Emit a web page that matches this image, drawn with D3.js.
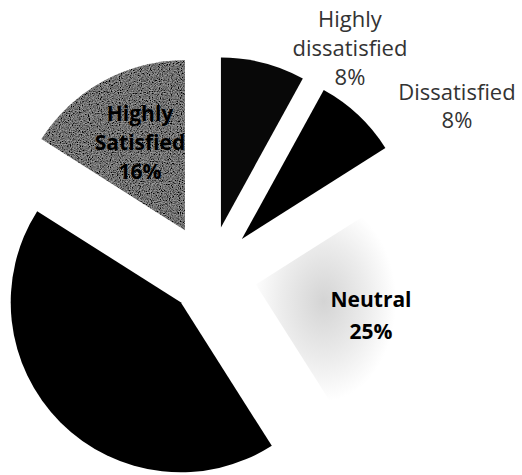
<!DOCTYPE html>
<html lang="en">
<head>
<meta charset="UTF-8">
<title>Satisfaction pie</title>
<style>
  body { margin: 0; background: #fff; }
  .outside { font-family: "Open Sans", sans-serif; font-size: 22px; fill: #333; }
  .inside { font-family: "Open Sans", sans-serif; font-size: 21px; font-weight: bold; fill: #000; }
</style>
<script src="https://d3js.org/d3.v7.min.js"></script>
</head>
<body>
<svg id="chart"></svg>
<script>
// data
const categories = ["Highly dissatisfied", "Dissatisfied", "Neutral", "Satisfied", "Highly Satisfied"];
const values = [8, 8, 25, 43, 16];
const labelLines = [
  ["Highly", "dissatisfied", "8%"],
  ["Dissatisfied", "8%"],
  ["Neutral", "25%"],
  [],
  ["Highly", "Satisfied", "16%"]
];

const width = 522, height = 475;
const cx = 209, cy = 274, radius = 170;

// how far each slice is pulled out, and where its label sits
const explode = [48, 48, 48, 40, 50];
const labelPos = [
  {x: 350, y: 27, lh: 29, cls: "outside"},
  {x: 457, y: 100, lh: 28, cls: "outside"},
  {x: 371, y: 307, lh: 32, cls: "inside"},
  null,
  {x: 140, y: 121, lh: 29, cls: "inside"}
];

const svg = d3.select("#chart").attr("width", width).attr("height", height);
svg.append("rect").attr("width", width).attr("height", height).attr("fill", "#fff");

const defs = svg.append("defs");

// grainy mid grey for Highly Satisfied
const grain = defs.append("filter").attr("id", "grain")
  .attr("x", 0).attr("y", 0).attr("width", 1).attr("height", 1);
grain.append("feTurbulence").attr("type", "fractalNoise")
  .attr("baseFrequency", 0.9).attr("numOctaves", 2).attr("seed", 3).attr("result", "noise");
grain.append("feColorMatrix").attr("in", "noise").attr("type", "matrix")
  .attr("values", "0 0 0 0 0  0 0 0 0 0  0 0 0 0 0  0 0 0 -2.2 1.6").attr("result", "dots");
grain.append("feFlood").attr("flood-color", "#9c9c9c").attr("result", "base");
grain.append("feComposite").attr("in", "dots").attr("in2", "base").attr("operator", "over").attr("result", "mix");
grain.append("feComposite").attr("in", "mix").attr("in2", "SourceAlpha").attr("operator", "in");

// faint speckled fade for Neutral
const fade = defs.append("radialGradient").attr("id", "fade")
  .attr("cx", 0.4).attr("cy", 0.46).attr("r", 0.5);
fade.append("stop").attr("offset", "0%").attr("stop-color", "#d4d4d4");
fade.append("stop").attr("offset", "50%").attr("stop-color", "#ececec");
fade.append("stop").attr("offset", "85%").attr("stop-color", "#ffffff");

const fills = ["#080808", "#000", "url(#fade)", "#000", "#8a8a8a"];
const filters = [null, null, null, null, "url(#grain)"];

const pie = d3.pie().sort(null).value(d => d)(values);
const arc = d3.arc().innerRadius(0).outerRadius(radius);

const g = svg.append("g").attr("transform", `translate(${cx},${cy})`);

g.selectAll("path.slice")
  .data(pie)
  .enter().append("path")
  .attr("class", "slice")
  .attr("transform", (d, i) => {
    const a = (d.startAngle + d.endAngle) / 2;
    return `translate(${Math.sin(a) * explode[i]},${-Math.cos(a) * explode[i]})`;
  })
  .attr("d", arc)
  .attr("fill", (d, i) => fills[i])
  .attr("filter", (d, i) => filters[i]);

// labels
labelLines.forEach((lines, i) => {
  const p = labelPos[i];
  if (!p) return;
  const t = svg.append("text").attr("class", p.cls).attr("text-anchor", "middle");
  lines.forEach((s, k) => {
    t.append("tspan").attr("x", p.x).attr("y", p.y + k * p.lh).text(s);
  });
});
</script>
</body>
</html>
